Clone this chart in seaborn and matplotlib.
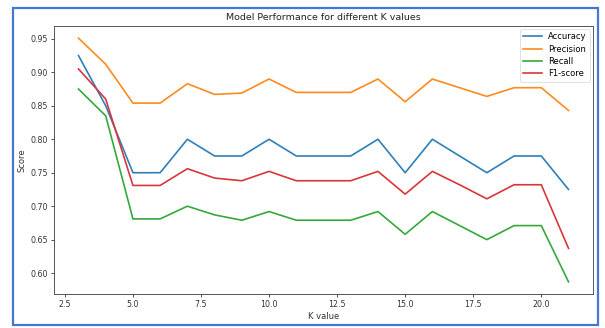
import matplotlib
matplotlib.use("Agg")
import matplotlib.pyplot as plt
import matplotlib.patches as patches
import seaborn as sns
import pandas as pd

k_values = [3, 4, 5, 6, 7, 8, 9, 10, 11, 12, 13, 14, 15, 16, 17, 18, 19, 20, 21]
accuracy = [0.925, 0.850, 0.750, 0.750, 0.800, 0.775, 0.775, 0.800, 0.775, 0.775,
            0.775, 0.800, 0.750, 0.800, 0.775, 0.750, 0.775, 0.775, 0.725]
precision = [0.951, 0.912, 0.854, 0.854, 0.883, 0.867, 0.869, 0.890, 0.870, 0.870,
             0.870, 0.890, 0.856, 0.890, 0.877, 0.864, 0.877, 0.877, 0.843]
recall = [0.875, 0.835, 0.681, 0.681, 0.700, 0.687, 0.679, 0.692, 0.679, 0.679,
          0.679, 0.692, 0.658, 0.692, 0.671, 0.650, 0.671, 0.671, 0.587]
f1_score = [0.905, 0.860, 0.731, 0.731, 0.756, 0.742, 0.738, 0.752, 0.738, 0.738,
            0.738, 0.752, 0.718, 0.752, 0.732, 0.711, 0.732, 0.732, 0.637]
series_names = ["Accuracy", "Precision", "Recall", "F1-score"]
colors = ["#2f7fb8", "#ff8a1f", "#35a83a", "#d9363a"]

rows = []
for name, vals in zip(series_names, [accuracy, precision, recall, f1_score]):
    for k, v in zip(k_values, vals):
        rows.append({"K value": k, "Score": v, "Metric": name})
df = pd.DataFrame(rows)

fig = plt.figure(figsize=(6.05, 3.28), dpi=100)
ax = fig.add_axes([54 / 605, 1 - 294 / 328, (593 - 54) / 605, (294 - 26) / 328])

sns.lineplot(data=df, x="K value", y="Score", hue="Metric", palette=colors,
             hue_order=series_names, ax=ax, linewidth=1.2)

ax.set_title("Model Performance for different K values", fontsize=6.8, pad=4, color="#222222")
ax.set_xlabel("K value", fontsize=6, labelpad=2, color="#333333")
ax.set_ylabel("Score", fontsize=6, labelpad=3, color="#333333")
ax.tick_params(labelsize=5.7, length=2.5, width=0.6, pad=2, colors="#333333")
for s in ax.spines.values():
    s.set_linewidth(0.7)
    s.set_color("#555555")
ax.set_xticks([2.5, 5.0, 7.5, 10.0, 12.5, 15.0, 17.5, 20.0])
ax.set_yticks([0.60, 0.65, 0.70, 0.75, 0.80, 0.85, 0.90, 0.95])

leg = ax.legend(loc="upper right", fontsize=6, handlelength=2.2, borderpad=0.4,
                labelspacing=0.4, frameon=True, borderaxespad=0.35)
leg.get_frame().set_linewidth(0.5)
for line in leg.get_lines():
    line.set_linewidth(1.2)

rect = patches.Rectangle((12.5 / 605, 1 - 324.5 / 328), (598 - 12.5) / 605, (324.5 - 8) / 328,
                         transform=fig.transFigure, fill=False, edgecolor="#4677d2",
                         linewidth=1.6, zorder=10)
fig.patches.append(rect)

fig.savefig("out.png", dpi=100)
